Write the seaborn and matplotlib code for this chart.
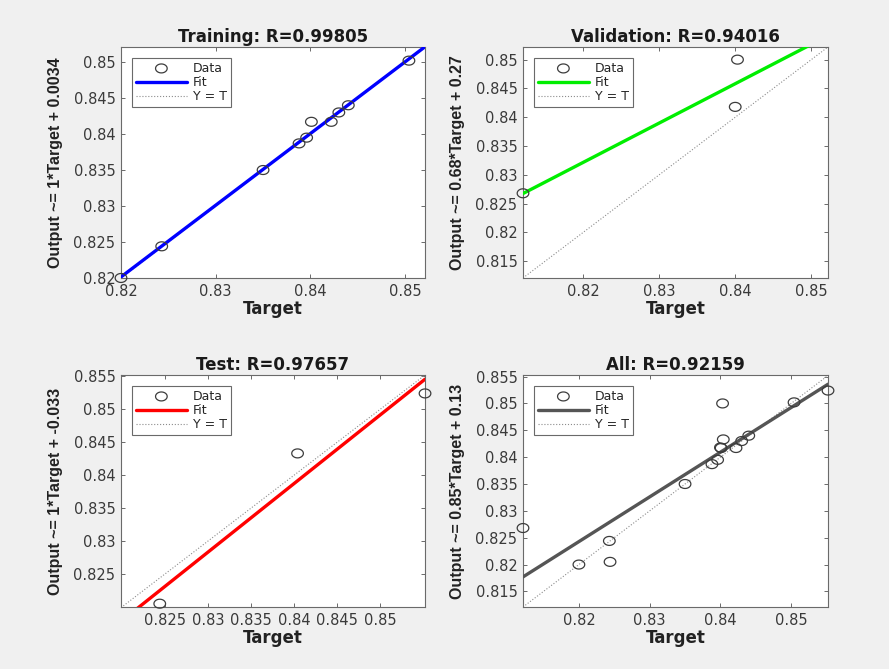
import numpy as np
import pandas as pd
import matplotlib
matplotlib.use("Agg")
import matplotlib.pyplot as plt
import seaborn as sns
from matplotlib.path import Path
from matplotlib.ticker import FormatStrFormatter, FixedLocator

# ---------------- data ----------------
train_target = [0.8200, 0.8243, 0.8350, 0.8388, 0.8396, 0.8401, 0.8422, 0.8430, 0.8440, 0.8504]
train_output = [0.8200, 0.8244, 0.8350, 0.8387, 0.8395, 0.8417, 0.8417, 0.8430, 0.8440, 0.8502]
val_target = [0.8121, 0.8403, 0.8400]
val_output = [0.8268, 0.8500, 0.8418]
test_target = [0.8244, 0.8404, 0.8552]
test_output = [0.8205, 0.8433, 0.8524]

titles = ["Training: R=0.99805", "Validation: R=0.94016", "Test: R=0.97657", "All: R=0.92159"]
ylabels = ["Output ~= 1*Target + 0.0034", "Output ~= 0.68*Target + 0.27",
           "Output ~= 1*Target + -0.033", "Output ~= 0.85*Target + 0.13"]
fit_colors = ["#0000ff", "#00ee00", "#ff0000", "#555555"]

xticks_list = [[0.82, 0.83, 0.84, 0.85],
               [0.82, 0.83, 0.84, 0.85],
               [0.825, 0.83, 0.835, 0.84, 0.845, 0.85],
               [0.82, 0.83, 0.84, 0.85]]
yticks_list = [[0.82, 0.825, 0.83, 0.835, 0.84, 0.845, 0.85],
               [0.815, 0.82, 0.825, 0.83, 0.835, 0.84, 0.845, 0.85],
               [0.825, 0.83, 0.835, 0.84, 0.845, 0.85, 0.855],
               [0.815, 0.82, 0.825, 0.83, 0.835, 0.84, 0.845, 0.85, 0.855]]
xlims = [(0.8200, 0.8521), (0.8121, 0.8522), (0.8199, 0.8552), (0.8121, 0.8552)]
ylims = [(0.8200, 0.8521), (0.8121, 0.8522), (0.8200, 0.8552), (0.8121, 0.8553)]

all_target = train_target + val_target + test_target
all_output = train_output + val_output + test_output
sets = [(train_target, train_output), (val_target, val_output),
        (test_target, test_output), (all_target, all_output)]

# ---------------- style ----------------
sns.set_style("ticks")
plt.rcParams["font.family"] = ["DejaVu Sans"]
plt.rcParams["axes.edgecolor"] = "#6a6a6a"
plt.rcParams["axes.linewidth"] = 0.8

fig = plt.figure(figsize=(8.89, 6.69), dpi=100)
fig.patch.set_facecolor("#f0f0f0")

positions = [[0.1361, 0.5845, 0.3420, 0.3453],
             [0.5883, 0.5845, 0.3431, 0.3453],
             [0.1361, 0.0927, 0.3420, 0.3468],
             [0.5883, 0.0927, 0.3431, 0.3468]]

# horizontally stretched circle marker (reference image is stretched)
th = np.linspace(0, 2 * np.pi, 60)
ellipse = Path(np.column_stack([1.3 * np.cos(th), np.sin(th)]), closed=True)

for i in range(4):
    ax = fig.add_axes(positions[i])
    ax.set_facecolor("white")
    t, o = sets[i]
    df = pd.DataFrame({"Target": t, "Output": o})
    xl, yl = xlims[i], ylims[i]

    # data
    sns.scatterplot(data=df, x="Target", y="Output", ax=ax, marker=ellipse, s=70,
                    facecolors="none", edgecolor="#3c3c3c", linewidth=0.9,
                    label="Data", zorder=4, clip_on=False)
    # fit
    slope, intercept = np.polyfit(np.array(t), np.array(o), 1)
    fx = np.array([xl[0], xl[1]])
    fit_df = pd.DataFrame({"x": fx, "y": slope * fx + intercept})
    sns.lineplot(data=fit_df, x="x", y="y", ax=ax, color=fit_colors[i], linewidth=2.4,
                 label="Fit", sort=False, estimator=None, zorder=3)
    # Y = T
    lo, hi = min(xl[0], yl[0]), max(xl[1], yl[1])
    id_df = pd.DataFrame({"x": [lo, hi], "y": [lo, hi]})
    sns.lineplot(data=id_df, x="x", y="y", ax=ax, color="#8c8c8c", linewidth=0.8,
                 linestyle=":", label="Y = T", sort=False, estimator=None, zorder=2)

    ax.set_xlim(*xl)
    ax.set_ylim(*yl)
    ax.xaxis.set_major_locator(FixedLocator(xticks_list[i]))
    ax.yaxis.set_major_locator(FixedLocator(yticks_list[i]))
    ax.xaxis.set_major_formatter(FormatStrFormatter("%g"))
    ax.yaxis.set_major_formatter(FormatStrFormatter("%g"))
    ax.tick_params(direction="in", length=3, width=0.7, color="#6a6a6a",
                   top=True, right=True, labelsize=10.5, labelcolor="#3a3a3a", pad=4)
    for sp in ax.spines.values():
        sp.set_visible(True)
        sp.set_color("#6a6a6a")

    ax.set_title(titles[i], fontsize=12, fontweight="bold", color="#1a1a1a", pad=3.5)
    ax.set_xlabel("Target", fontsize=12, fontweight="bold", color="#222222")
    ax.xaxis.set_label_coords(0.5, -0.095)
    ax.set_ylabel(ylabels[i], fontsize=11.5, fontweight="bold", color="#222222",
                  family=["Liberation Sans", "DejaVu Sans"])
    ax.yaxis.set_label_coords(-0.19, 0.5)

    leg = ax.legend(loc="upper left", fontsize=9, frameon=True, fancybox=False,
                    framealpha=1, edgecolor="#6a6a6a", borderaxespad=0.9,
                    handlelength=4.1, handletextpad=0.5, labelspacing=0.1,
                    borderpad=0.28, scatterpoints=1)
    leg.get_frame().set_linewidth(0.8)

fig.savefig("out.png", dpi=100, facecolor=fig.get_facecolor())
